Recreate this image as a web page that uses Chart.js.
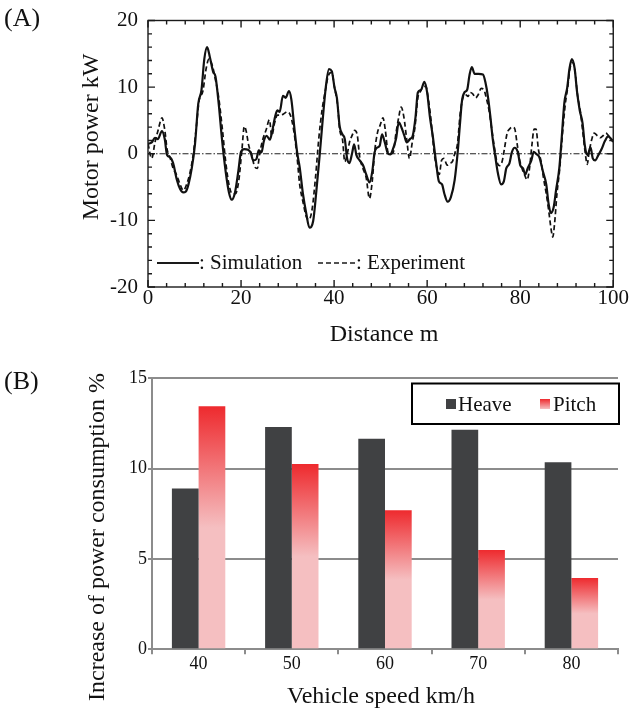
<!DOCTYPE html>
<html>
<head>
<meta charset="utf-8">
<script src="https://cdn.jsdelivr.net/npm/chart.js@4/dist/chart.umd.min.js"></script>
<style>
  body { margin: 0; background: #fff; }
  canvas { position: absolute; left: 0; }
  #powerChart { top: 0; }
  #increaseChart { top: 355px; }
</style>
</head>
<body>
<canvas id="powerChart" width="630" height="355"></canvas>
<canvas id="increaseChart" width="630" height="358"></canvas>
<script>
// (A) motor power vs distance
const simDist = [0,0.8,1.5,2.1,3.0,3.6,4.1,4.7,5.4,6.2,6.9,7.6,8.1,8.7,9.4,10.1,10.8,11.5,12.1,12.7,13.3,14.0,14.5,15.2,15.9,16.7,17.4,18.0,18.7,19.4,20.0,20.7,21.5,22.1,22.6,23.3,23.8,24.4,24.9,25.5,26.2,26.7,27.3,27.8,28.3,29.0,29.6,30.3,30.8,31.5,32.1,32.6,33.3,34.0,34.7,35.5,36.2,36.9,37.6,38.2,38.9,39.5,40.1,40.6,41.2,41.8,42.3,42.8,43.3,43.9,44.3,44.8,45.5,46.2,46.9,47.6,48.2,48.7,49.2,49.8,50.3,50.9,51.6,52.1,52.6,53.3,53.9,54.5,55.1,55.6,56.3,56.9,57.5,58.0,58.7,59.4,60.0,60.6,61.2,61.9,62.5,63.2,63.7,64.4,65.1,65.9,66.6,67.0,67.5,68.0,68.6,69.1,69.6,70.2,71.0,72.0,72.5,73.1,73.6,74.1,74.6,75.2,75.9,76.5,77.0,77.7,78.2,78.8,79.5,80.0,80.6,81.1,81.6,82.4,82.9,83.4,84.1,84.9,85.6,86.1,86.6,87.2,87.7,88.4,88.9,89.5,90.1,90.6,91.1,91.7,92.2,92.8,93.4,93.9,94.5,95.1,95.6,96.1,96.8,97.5,98.2,98.9,100];
const simPower = [1.5,1.7,2.4,2.2,3.4,2.2,-0.2,-0.5,-1.4,-3.9,-5.3,-5.8,-5.7,-4.6,-2.2,1.4,7.5,9.6,14.2,16.0,14.5,12.3,11.6,7.5,2.2,-2.7,-5.8,-6.9,-5.8,-2.7,0.3,0.7,0.6,0.1,-1.0,-0.8,0.5,0.2,1.9,2.7,2.1,3.4,5.5,6.5,6.3,8.7,8.4,9.4,8.2,3.6,0,-2.0,-6.0,-8.9,-11.1,-10.1,-5.5,-0.2,5.5,9.9,12.7,12.4,9.9,8.4,4.1,2.9,2.2,-0.7,-1.4,0.2,1.4,-0.2,-1.0,-1.7,-3.1,-4.3,-2.7,0.2,0.9,1.2,2.9,1.7,0,-0.1,0.6,2.2,4.7,3.9,2.7,1.7,2.2,2.7,5.5,9.2,9.6,10.8,9.2,5.5,2.7,-1.2,-4.1,-4.6,-6.0,-7.2,-6.5,-4.0,0.5,4.0,8.0,9.2,9.6,11.8,13.0,12.0,12.0,11.9,10.8,8.4,5.5,2.2,-0.2,-2.9,-4.6,-4.1,-2.2,-1.4,0.2,0.9,0.2,-1.7,-2.2,-3.1,-2.2,-1.0,0.3,0,-0.5,-2.7,-4.6,-7.5,-8.9,-8.0,-5.5,-2.2,2.2,7.7,9.9,12.8,14.2,12.8,9.4,6.5,4.6,1.2,-0.2,1.0,-0.7,-1.0,-0.2,0.7,1.9,2.6,1.8];

const expDist = [0,0.8,1.5,2.2,3.0,3.6,4.1,4.7,5.4,6.1,6.9,7.6,8.3,9.0,9.7,10.4,11.0,11.8,12.5,13.1,13.8,14.5,15.2,16.0,16.7,17.4,18.1,18.8,19.5,20.2,20.7,21.1,21.6,22.3,22.9,23.5,24.0,24.7,25.4,26.1,26.6,27.2,27.8,28.5,29.2,29.9,30.6,31.3,32.0,32.6,33.3,34.0,34.6,35.3,36.0,36.7,37.4,38.1,38.8,39.5,40.1,40.8,41.2,41.8,42.3,42.9,43.3,43.9,44.4,45.0,45.5,46.2,46.9,47.6,48.2,48.7,49.3,49.9,50.5,51.0,51.6,52.1,52.7,53.3,53.9,54.4,55.0,55.6,56.2,56.8,57.4,58.0,58.6,59.2,59.7,60.3,60.9,61.5,62.1,62.6,63.1,63.6,64.3,64.9,65.4,66.0,66.5,67.1,67.6,68.2,68.8,69.2,69.8,70.4,71.0,71.6,72.2,72.7,73.3,73.8,74.4,75.0,75.6,76.1,76.6,77.2,77.7,78.3,78.8,79.3,79.8,80.4,80.9,81.5,82.0,82.5,83.0,83.4,83.9,84.5,85.0,85.6,86.1,86.7,87.0,87.4,87.9,88.5,89.1,89.7,90.2,90.7,91.3,91.8,92.3,92.9,93.4,94.0,94.4,94.8,95.4,95.9,96.6,97.2,97.8,98.4,99.0,100];
const expPower = [1.5,-0.7,1.7,3.6,5.4,3.6,0.7,-0.5,-2.2,-3.1,-4.6,-5.5,-4.6,-2.9,-0.2,4.1,8.0,9.4,12.8,14.2,13.3,11.1,8.4,3.6,-1.2,-4.6,-6.0,-6.0,-4.1,0.7,4.1,3.4,1.4,-0.2,-1.9,-2.2,0,2.2,3.6,5.1,2.7,4.6,5.8,5.8,6.0,6.3,5.8,3.6,-0.2,-4.6,-7.2,-9.4,-9.9,-8.2,-3.6,2.2,6.5,9.4,11.8,12.2,9.9,7.0,3.6,2.2,-1.2,0.2,1.7,2.8,3.5,2.7,-0.5,-2.2,-3.6,-6.7,-4.1,0.2,3.1,4.3,5.4,3.6,0.2,0,0.2,3.1,5.5,7.0,5.5,2.2,-0.7,1.7,4.1,8.4,9.4,10.1,10.1,8.0,4.6,0.2,-2.2,-3.1,-1.0,-0.7,-1.7,-1.4,-1.2,0.2,1.4,6.0,8.2,8.9,8.6,9.2,9.0,8.4,8.9,9.8,9.6,8.4,6.5,4.1,1.2,-1.2,-1.8,-1.2,0.7,3.1,3.7,4.0,3.8,1.7,-0.7,-2.2,-3.1,-3.9,-2.2,1.2,3.7,3.7,0.7,-1.2,-3.6,-6.0,-8.4,-11.6,-12.5,-10.4,-6.0,-2.2,3.1,7.5,9.9,12.8,13.7,12.3,8.9,6.5,3.6,0,-1.6,0.2,2.2,3.1,2.7,2.4,2.7,3.1,2.7,1.9];

const baseDist = [0, 100];
const basePower = [0, 0];

// (B) increase of power consumption
const speeds = ['40','50','60','70','80'];
const heave = [8.9, 12.3, 11.65, 12.15, 10.35];
const pitch = [13.45, 10.25, 7.7, 5.5, 3.95];

const serif = 'Liberation Serif';
const red = '#ee2a2e';
const pink = '#f5bfc1';
const dark = '#404143';
const axisGray = '#8c8c8c';

function points(xs, ys) {
  return xs.map(function(x, i) { return {x: x, y: ys[i]}; });
}

const frameTicks = {
  id: 'frameTicks',
  afterDraw: function(chart) {
    const c = chart.ctx, a = chart.chartArea;
    const xs = chart.scales.x, ys = chart.scales.y;
    c.save();
    c.strokeStyle = '#1a1a1a';
    c.lineWidth = 1.4;
    c.strokeRect(a.left, a.top, a.right - a.left, a.bottom - a.top);
    c.beginPath();
    for (let d = 0; d <= 100; d += 4) {
      const px = xs.getPixelForValue(d);
      const len = d % 20 === 0 ? 7 : 4;
      c.moveTo(px, a.bottom); c.lineTo(px, a.bottom - len);
      c.moveTo(px, a.top); c.lineTo(px, a.top + len);
    }
    for (let v = -20; v <= 20; v += 2) {
      const py = ys.getPixelForValue(v);
      const len = v % 10 === 0 ? 7 : 4;
      c.moveTo(a.left, py); c.lineTo(a.left + len, py);
      c.moveTo(a.right, py); c.lineTo(a.right - len, py);
    }
    c.stroke();

    // legend inside the plot
    c.lineWidth = 2.2;
    c.beginPath(); c.moveTo(157, 263); c.lineTo(199, 263); c.stroke();
    c.lineWidth = 1.7;
    c.setLineDash([5, 3]);
    c.beginPath(); c.moveTo(318, 263); c.lineTo(356, 263); c.stroke();
    c.setLineDash([]);
    c.fillStyle = '#111';
    c.font = '21px "' + serif + '"';
    c.textBaseline = 'alphabetic';
    c.textAlign = 'left';
    c.fillText(': Simulation', 199, 269);
    c.fillText(': Experiment', 356, 269);

    // titles
    c.font = '24px "' + serif + '"';
    c.textAlign = 'center';
    c.textBaseline = 'middle';
    c.fillText('Distance m', 384, 335);
    c.save();
    c.translate(92, 137);
    c.rotate(-Math.PI / 2);
    c.fillText('Motor power kW', 0, 0);
    c.restore();
    c.font = '26px "' + serif + '"';
    c.textAlign = 'left';
    c.fillText('(A)', 4, 19);
    c.restore();
  }
};

new Chart(document.getElementById('powerChart'), {
  type: 'line',
  data: {
    datasets: [{
        label: 'Simulation',
        data: points(simDist, simPower),
        borderColor: '#111',
        borderWidth: 2.2,
        pointRadius: 0,
        cubicInterpolationMode: 'monotone'
      }, {
        label: 'Experiment',
        data: points(expDist, expPower),
        borderColor: '#111',
        borderWidth: 1.7,
        borderDash: [5, 3],
        pointRadius: 0,
        cubicInterpolationMode: 'monotone'
      }, {
        label: 'zero',
        data: points(baseDist, basePower),
        borderColor: '#222',
        borderWidth: 1,
        borderDash: [6, 2, 1.5, 2],
        pointRadius: 0
      }
    ]
  },
  options: {
    responsive: false,
    animation: false,
    layout: { padding: { top: 12.7, right: 16, left: 0, bottom: 0 } },
    plugins: { legend: { display: false }, tooltip: { enabled: false } },
    scales: {
      x: {
        type: 'linear', min: 0, max: 100,
        ticks: { stepSize: 20, padding: 1, color: '#111', font: { family: serif, size: 21, lineHeight: 1 } },
        grid: { display: false, drawTicks: false },
        border: { display: false },
        afterFit: function(s) { s.height = 68; }
      },
      y: {
        min: -20, max: 20,
        ticks: { stepSize: 10, padding: 10, color: '#111', font: { family: serif, size: 21, lineHeight: 1 } },
        grid: { display: false, drawTicks: false },
        border: { display: false },
        afterFit: function(s) { s.width = 148; }
      }
    }
  },
  plugins: [frameTicks]
});

function pitchFill(ctx) {
  const chart = ctx.chart;
  if (!chart.chartArea || ctx.raw === undefined) return pink;
  const ys = chart.scales.y;
  const top = ys.getPixelForValue(ctx.raw);
  const bottom = ys.getPixelForValue(0);
  const g = chart.ctx.createLinearGradient(0, top, 0, bottom);
  g.addColorStop(0, red);
  g.addColorStop(0.5, pink);
  g.addColorStop(1, pink);
  return g;
}

const barExtras = {
  id: 'barExtras',
  afterDraw: function(chart) {
    const c = chart.ctx;
    c.save();
    // legend box
    c.strokeStyle = '#000';
    c.lineWidth = 2;
    c.fillStyle = '#fff';
    c.fillRect(412, 28.5, 207, 40.5);
    c.strokeRect(412, 28.5, 207, 40.5);
    c.fillStyle = dark;
    c.fillRect(446, 44, 10, 10);
    const g = c.createLinearGradient(0, 44, 0, 54);
    g.addColorStop(0, red);
    g.addColorStop(1, pink);
    c.fillStyle = g;
    c.fillRect(540, 44, 10, 10);
    c.fillStyle = '#111';
    c.font = '21px "' + serif + '"';
    c.textAlign = 'left';
    c.textBaseline = 'alphabetic';
    c.fillText('Heave', 458, 56);
    c.fillText('Pitch', 553, 56);

    // titles
    c.font = '24px "' + serif + '"';
    c.textAlign = 'center';
    c.textBaseline = 'middle';
    c.fillText('Vehicle speed km/h', 381, 342);
    c.save();
    c.translate(98, 182);
    c.rotate(-Math.PI / 2);
    c.fillText('Increase of power consumption %', 0, 0);
    c.restore();
    c.font = '26px "' + serif + '"';
    c.textAlign = 'left';
    c.fillText('(B)', 4, 27);
    c.restore();
  }
};

new Chart(document.getElementById('increaseChart'), {
  type: 'bar',
  data: {
    labels: speeds,
    datasets: [{
        label: 'Heave',
        data: heave,
        backgroundColor: dark,
        categoryPercentage: 0.573,
        barPercentage: 1.0
      }, {
        label: 'Pitch',
        data: pitch,
        backgroundColor: pitchFill,
        categoryPercentage: 0.573,
        barPercentage: 1.0
      }
    ]
  },
  options: {
    responsive: false,
    animation: false,
    layout: { padding: { top: 23.3, right: 12, left: 0, bottom: 0 } },
    plugins: { legend: { display: false }, tooltip: { enabled: false } },
    scales: {
      x: {
        ticks: { padding: 1, color: '#111', font: { family: serif, size: 18, lineHeight: 1 } },
        grid: { drawOnChartArea: false, drawTicks: true, tickLength: 5, color: axisGray, lineWidth: 2 },
        border: { color: axisGray, width: 2 },
        afterFit: function(s) { s.height = 63.7; }
      },
      y: {
        min: 0, max: 15,
        ticks: { stepSize: 5, padding: 1, color: '#111', font: { family: serif, size: 18, lineHeight: 1 } },
        grid: { color: axisGray, lineWidth: 2, drawTicks: true, tickLength: 4 },
        border: { color: axisGray, width: 2 },
        afterFit: function(s) { s.width = 152; }
      }
    }
  },
  plugins: [barExtras]
});
</script>
</body>
</html>
